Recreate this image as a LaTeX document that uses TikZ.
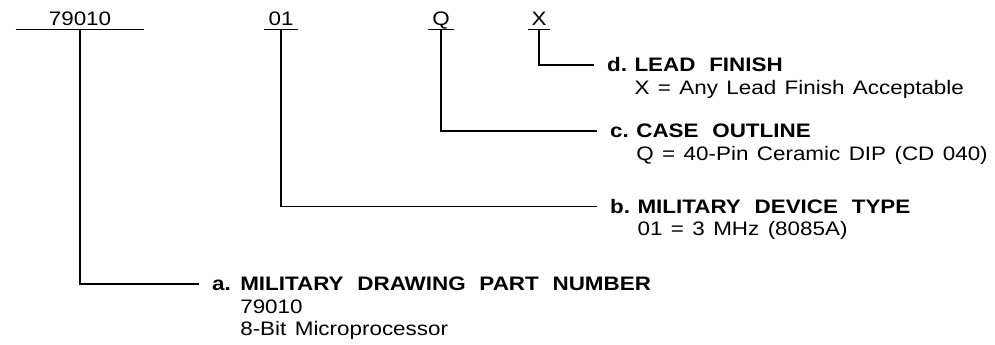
\documentclass[tikz,border=0pt]{standalone}
\usepackage{fontspec}
\setmainfont{Liberation Sans}[FakeStretch=1.15,WordSpace=1.35,
  BoldFeatures={FakeStretch=1.15,WordSpace=2.2}]
\usetikzlibrary{positioning}

\tikzset{
  field/.style={anchor=base, text depth=0pt, inner ysep=3pt,
    font=\fontsize{19.5}{22.5}\selectfont},
  letter/.style={anchor=west, inner sep=0pt, text height=14pt, text depth=0pt,
    font=\fontsize{19.5}{22.5}\selectfont\bfseries},
  desc/.style={anchor=north west, inner sep=0pt, align=left,
    font=\fontsize{19.5}{22.5}\selectfont},
  lead/.style={line width=1.3pt, shorten >=13pt}
}

\begin{document}
\begin{tikzpicture}[x=1pt,y=1pt]
\useasboundingbox (0,0) rectangle (995,345);

% Part number fields
\node[field, inner xsep=33pt] (n79010) at (80,319) {79010};
\node[field, inner xsep=4.5pt] (n01) at (281,319) {01};
\node[field, inner xsep=4pt] (nQ) at (441,319) {Q};
\node[field, inner xsep=3.5pt] (nX) at (539,319) {X};
\foreach \n in {n79010,n01,nQ,nX}
    \draw[line width=1.3pt] (\n.south west) -- (\n.south east);

% Item letters
\node[letter] (la) at (212,61) {a.};
\node[letter] (lb) at (610,138.5) {b.};
\node[letter] (lc) at (610,214) {c.};
\node[letter] (ld) at (607,280) {d.};

% Descriptions
\node[desc, right=9pt of la.north east, anchor=north west] (da)
    {\textbf{MILITARY DRAWING PART NUMBER}\\79010\\8-Bit Microprocessor};
\node[desc, right=7pt of lb.north east, anchor=north west] (db)
    {\textbf{MILITARY DEVICE TYPE}\\01 = 3 MHz (8085A)};
\node[desc, right=7pt of lc.north east, anchor=north west] (dc)
    {\textbf{CASE OUTLINE}\\Q = 40-Pin Ceramic DIP (CD 040)};
\node[desc, right=7pt of ld.north east, anchor=north west] (dd)
    {\textbf{LEAD FINISH}\\X = Any Lead Finish Acceptable};

% Leaders
\draw[lead] (n79010.south) |- (la.west);
\draw[lead] (n01.south) |- (lb.west);
\draw[lead] (nQ.south) |- (lc.west);
\draw[lead] (nX.south) |- (ld.west);
\end{tikzpicture}
\end{document}
